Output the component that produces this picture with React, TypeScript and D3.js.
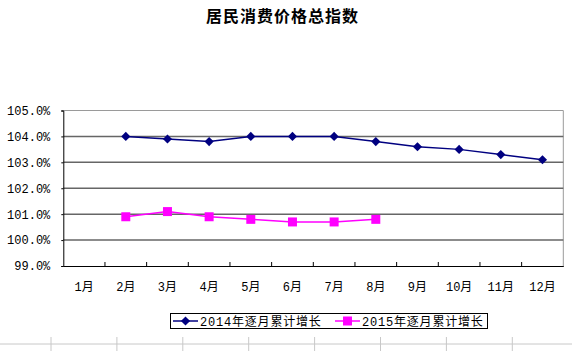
import { useEffect, useRef } from 'react';
import * as d3 from 'd3';

const months = ['1月', '2月', '3月', '4月', '5月', '6月', '7月', '8月', '9月', '10月', '11月', '12月'];
const months2014 = ['2月', '3月', '4月', '5月', '6月', '7月', '8月', '9月', '10月', '11月', '12月'];
const values2014 = [104.0, 103.9, 103.8, 104.0, 104.0, 104.0, 103.8, 103.6, 103.5, 103.3, 103.1];
const months2015 = ['2月', '3月', '4月', '5月', '6月', '7月', '8月'];
const values2015 = [100.9, 101.1, 100.9, 100.8, 100.7, 100.7, 100.8];
const yTicks = [99, 100, 101, 102, 103, 104, 105];
const seriesNames = ['2014年逐月累计增长', '2015年逐月累计增长'];

const W = 572;
const H = 351;
const NAVY = '#000080';
const MAGENTA = '#ff00ff';
const MONO = '"Liberation Mono", "Noto Sans CJK SC", monospace';

export default function App() {
    const svgRef = useRef<SVGSVGElement>(null);

    useEffect(() => {
        if (!svgRef.current) return;
        const svg = d3.select(svgRef.current);
        svg.selectAll('*').remove();

        const left = 63.3, right = 563.3, top = 110.5, bottom = 266;

        const x = d3.scaleBand().domain(months).range([left, right]).padding(0);
        const y = d3.scaleLinear().domain([99, 105]).range([bottom, top]);
        const cx = (m: string) => (x(m) || 0) + x.bandwidth() / 2;

        // page table lines under the chart
        svg.append('line')
            .attr('x1', 0).attr('x2', W).attr('y1', 344).attr('y2', 344)
            .attr('stroke', '#c8c8c8');
        d3.range(8).forEach(i => {
            svg.append('line')
                .attr('x1', 51 + i * 65.9).attr('x2', 51 + i * 65.9)
                .attr('y1', 337).attr('y2', H)
                .attr('stroke', '#c8c8c8');
        });

        // title
        svg.append('text')
            .attr('x', 282.5).attr('y', 22)
            .attr('text-anchor', 'middle')
            .style('font-family', '"Noto Sans CJK SC", sans-serif')
            .style('font-weight', 'bold')
            .style('font-size', '16px')
            .style('letter-spacing', '1px')
            .text('居民消费价格总指数');

        // plot border (top / right)
        svg.append('path')
            .attr('d', `M${left},${top}H${right}V${bottom}`)
            .attr('fill', 'none')
            .attr('stroke', '#9a9a9a');

        // gridlines
        svg.append('g')
            .selectAll('line')
            .data(yTicks.filter(t => t > 99 && t < 105))
            .enter()
            .append('line')
            .attr('x1', left).attr('x2', right)
            .attr('y1', d => y(d)).attr('y2', d => y(d))
            .attr('stroke', '#666')
            .attr('stroke-width', 1.5);

        // y axis
        const yAxis = svg.append('g')
            .attr('transform', `translate(${left},0)`)
            .call(d3.axisLeft(y).tickValues(yTicks).tickSize(2).tickPadding(11)
                .tickFormat(d => `${(+d).toFixed(1)}%`));
        yAxis.selectAll('text')
            .style('font-family', MONO)
            .style('font-size', '12px')
            .style('fill', '#000');
        yAxis.selectAll('line, .domain').attr('stroke', '#000');

        // x axis
        const xAxis = svg.append('g')
            .attr('transform', `translate(0,${bottom})`)
            .call(d3.axisBottom(x).tickSize(0).tickPadding(16));
        xAxis.select('.domain').attr('stroke', '#000');
        xAxis.selectAll('text')
            .style('font-family', MONO)
            .style('font-size', '12px')
            .style('fill', '#000');
        svg.append('g')
            .selectAll('line')
            .data(months.slice(1))
            .enter()
            .append('line')
            .attr('x1', d => x(d) || 0).attr('x2', d => x(d) || 0)
            .attr('y1', bottom).attr('y2', bottom - 4)
            .attr('stroke', '#000');

        const line = d3.line<[string, number]>()
            .x(d => cx(d[0]))
            .y(d => y(d[1]));

        const s2014 = months2014.map((m, i) => [m, values2014[i]] as [string, number]);
        const s2015 = months2015.map((m, i) => [m, values2015[i]] as [string, number]);

        svg.append('path')
            .datum(s2014)
            .attr('d', line)
            .attr('fill', 'none')
            .attr('stroke', NAVY)
            .attr('stroke-width', 1.5);

        svg.append('path')
            .datum(s2015)
            .attr('d', line)
            .attr('fill', 'none')
            .attr('stroke', MAGENTA)
            .attr('stroke-width', 1.5);

        const diamond = d3.symbol(d3.symbolSquare, 42)();
        const square = d3.symbol(d3.symbolSquare, 81)();

        svg.append('g')
            .selectAll('path')
            .data(s2014)
            .enter()
            .append('path')
            .attr('d', diamond)
            .attr('transform', d => `translate(${cx(d[0])},${y(d[1])}) rotate(45)`)
            .attr('fill', NAVY);

        svg.append('g')
            .selectAll('path')
            .data(s2015)
            .enter()
            .append('path')
            .attr('d', square)
            .attr('transform', d => `translate(${cx(d[0])},${y(d[1])})`)
            .attr('fill', MAGENTA);

        // legend
        const lg = svg.append('g');
        lg.append('rect')
            .attr('x', 170.5).attr('y', 313.5)
            .attr('width', 317).attr('height', 15)
            .attr('fill', '#fff')
            .attr('stroke', '#000');
        const items = [
            { name: seriesNames[0], color: NAVY, x0: 173, mark: diamond, rot: 45 },
            { name: seriesNames[1], color: MAGENTA, x0: 335, mark: square, rot: 0 },
        ];
        items.forEach(it => {
            lg.append('line')
                .attr('x1', it.x0).attr('x2', it.x0 + 25)
                .attr('y1', 321).attr('y2', 321)
                .attr('stroke', it.color)
                .attr('stroke-width', 1.5);
            lg.append('path')
                .attr('d', it.mark)
                .attr('transform', `translate(${it.x0 + 12.5},321) rotate(${it.rot})`)
                .attr('fill', it.color);
            lg.append('text')
                .attr('x', it.x0 + 27).attr('y', 325.5)
                .style('font-family', MONO)
                .style('font-size', '12px')
                .style('letter-spacing', '0.8px')
                .text(it.name);
        });
    }, []);

    return (
        <svg
            ref={svgRef}
            width={W}
            height={H}
            style={{ position: 'absolute', left: 0, top: 0, background: '#fff' }}
        />
    );
}
